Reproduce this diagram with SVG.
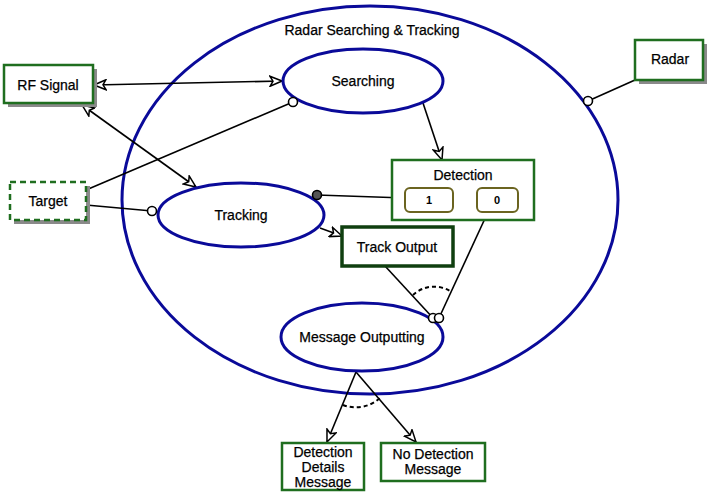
<svg xmlns="http://www.w3.org/2000/svg" width="707" height="493" viewBox="0 0 707 493">
  <style>
    text { font-family: "Liberation Sans", Arial, sans-serif; font-size: 14px; fill: #000; text-anchor: middle; stroke: #000; stroke-width: 0.25; }
    .ell { fill: white; stroke: #0a0a99; stroke-width: 3; }
    .outer { fill: none; stroke: #0a0a99; stroke-width: 3; }
    .box { fill: white; stroke: #1f6e1f; stroke-width: 2.5; }
    .boxDark { fill: white; stroke: #0f3f0f; stroke-width: 3.5; }
    .dash { fill: white; stroke: #1f6e1f; stroke-width: 2.5; stroke-dasharray: 6 4; }
    .shadow { fill: #8a8a8a; }
    .port { fill: white; stroke: #6b6420; stroke-width: 2; }
    .small { font-size: 11px; font-weight: bold; stroke: none; }
    .edge { fill: none; stroke: #000; stroke-width: 1.6; }
    .arc { fill: none; stroke: #000; stroke-width: 2; stroke-dasharray: 4 3; }
    .dot { fill: white; stroke: #000; stroke-width: 1.6; }
  </style>
  <defs>
    <marker id="arrow" viewBox="0 0 14 12" refX="13" refY="6" markerWidth="14" markerHeight="12" markerUnits="userSpaceOnUse" orient="auto-start-reverse">
      <path d="M1,1 L13,6 L1,11 L4,6 Z" fill="white" stroke="#000" stroke-width="1.5"/>
    </marker>
  </defs>

  <!-- system boundary -->
  <g id="radar-searching-tracking">
    <ellipse class="outer" cx="370" cy="200" rx="248" ry="194"/>
    <text x="372" y="35">Radar Searching &amp; Tracking</text>
  </g>

  <!-- connectors -->
  <g id="connectors">
    <line class="edge" x1="94" y1="85" x2="282" y2="81" marker-start="url(#arrow)" marker-end="url(#arrow)"/>
    <line class="edge" x1="82" y1="105" x2="196" y2="187" marker-start="url(#arrow)" marker-end="url(#arrow)"/>
    <line class="edge" x1="86" y1="190" x2="293" y2="102"/>
    <line class="edge" x1="86" y1="205" x2="152" y2="211"/>
    <line class="edge" x1="423" y1="103" x2="442" y2="160" marker-end="url(#arrow)"/>
    <line class="edge" x1="405" y1="198" x2="317" y2="195"/>
    <line class="edge" x1="320" y1="228" x2="342" y2="236" marker-end="url(#arrow)"/>
    <line class="edge" x1="385" y1="266" x2="433" y2="318"/>
    <line class="edge" x1="488" y1="212" x2="439" y2="318"/>
    <path class="arc" d="M413,295 A31,31 0 0 1 450,291"/>
    <line class="edge" x1="635" y1="80" x2="588" y2="101"/>
    <line class="edge" x1="356" y1="372" x2="327" y2="442" marker-end="url(#arrow)"/>
    <line class="edge" x1="356" y1="372" x2="416" y2="442" marker-end="url(#arrow)"/>
    <path class="arc" d="M343,405 A36,36 0 0 0 380,398"/>
  </g>

  <g id="rf-signal">
    <rect class="shadow" x="8" y="69" width="89" height="38"/>
    <rect class="box" x="4" y="65" width="89" height="38"/>
    <text x="48" y="90">RF Signal</text>
  </g>

  <g id="target">
    <rect class="shadow" x="14" y="186" width="76" height="38"/>
    <rect class="dash" x="10" y="182" width="76" height="38"/>
    <text x="48" y="206">Target</text>
  </g>

  <g id="radar">
    <rect class="shadow" x="639" y="44" width="68" height="40"/>
    <rect class="box" x="635" y="40" width="68" height="40"/>
    <text x="670" y="64">Radar</text>
  </g>

  <g id="searching">
    <ellipse class="ell" cx="363" cy="81" rx="80" ry="32"/>
    <text x="363" y="86">Searching</text>
  </g>

  <g id="tracking">
    <ellipse class="ell" cx="241" cy="215" rx="83" ry="32"/>
    <text x="241" y="220">Tracking</text>
  </g>

  <g id="message-outputting">
    <ellipse class="ell" cx="362" cy="337" rx="81" ry="34"/>
    <text x="362" y="342">Message Outputting</text>
  </g>

  <g id="detection">
    <rect class="box" x="392" y="160" width="142" height="60"/>
    <text x="463" y="180">Detection</text>
    <rect class="port" x="405" y="188" width="48" height="24" rx="5"/>
    <text class="small" x="429" y="204">1</text>
    <rect class="port" x="477" y="188" width="41" height="24" rx="5"/>
    <text class="small" x="497" y="204">0</text>
  </g>

  <g id="track-output">
    <rect class="boxDark" x="342" y="227" width="111" height="39"/>
    <text x="397" y="252">Track Output</text>
  </g>

  <g id="detection-details-message">
    <rect class="box" x="282" y="443" width="82" height="47"/>
    <text x="323" y="457">Detection</text>
    <text x="323" y="472">Details</text>
    <text x="323" y="487">Message</text>
  </g>

  <g id="no-detection-message">
    <rect class="box" x="381" y="443" width="104" height="38"/>
    <text x="433" y="459">No Detection</text>
    <text x="433" y="474">Message</text>
  </g>

  <!-- connector end markers drawn above the shapes -->
  <g id="connector-ends">
    <circle class="dot" cx="293" cy="102" r="4.5"/>
    <circle class="dot" cx="152" cy="211" r="4.5"/>
    <circle cx="317" cy="195" r="4.5" fill="#555" stroke="#000" stroke-width="1.6"/>
    <circle class="dot" cx="433" cy="318" r="4.5"/>
    <circle class="dot" cx="439" cy="318" r="4.5"/>
    <circle class="dot" cx="588" cy="101" r="4.5"/>
  </g>
</svg>
